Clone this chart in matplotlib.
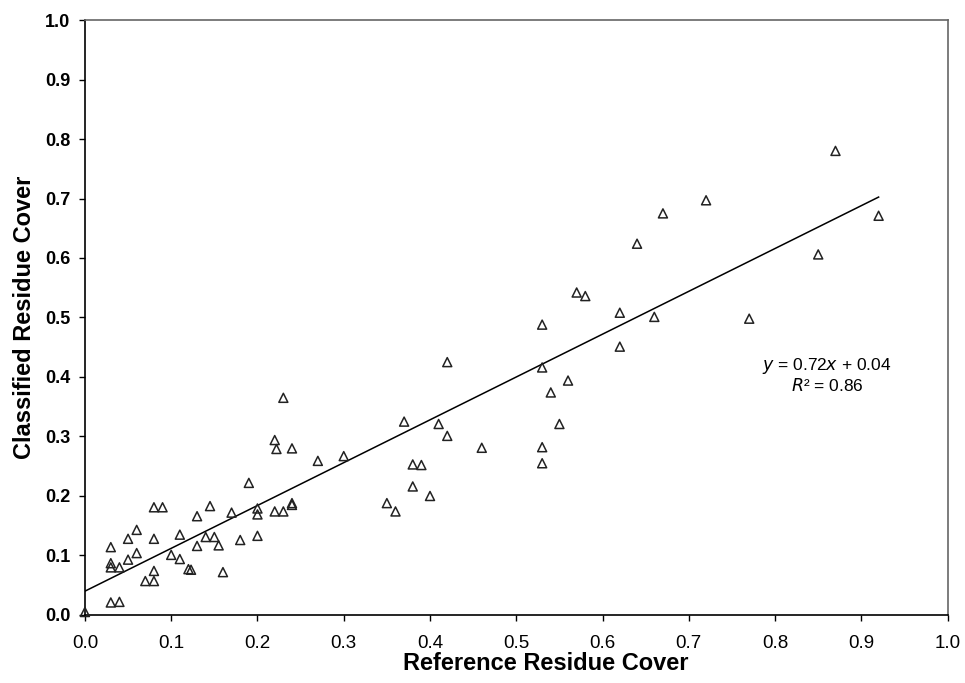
import matplotlib
matplotlib.use("Agg")
import matplotlib.pyplot as plt
import numpy as np

fam = ['Liberation Sans', 'DejaVu Sans']

ref_cover = [0.00, 0.03, 0.03, 0.03, 0.04, 0.03, 0.04, 0.05, 0.05, 0.06, 0.06, 0.07, 0.08, 0.08,
             0.08, 0.08, 0.09, 0.10, 0.11, 0.11, 0.12, 0.123, 0.13, 0.13, 0.14, 0.145, 0.15, 0.155,
             0.16, 0.17, 0.18, 0.19, 0.20, 0.20, 0.20, 0.22, 0.222, 0.22, 0.23, 0.23, 0.24, 0.24,
             0.24, 0.27, 0.30, 0.35, 0.36, 0.37, 0.38, 0.38, 0.39, 0.40, 0.41, 0.42, 0.42, 0.46,
             0.53, 0.53, 0.53, 0.53, 0.54, 0.55, 0.56, 0.57, 0.58, 0.62, 0.62, 0.64, 0.66, 0.67,
             0.72, 0.77, 0.85, 0.87, 0.92]
cls_cover = [0.005, 0.114, 0.087, 0.080, 0.080, 0.021, 0.022, 0.093, 0.128, 0.143, 0.104, 0.057, 0.057, 0.074,
             0.128, 0.181, 0.181, 0.101, 0.094, 0.135, 0.077, 0.076, 0.166, 0.116, 0.131, 0.183, 0.131, 0.117,
             0.072, 0.172, 0.126, 0.222, 0.179, 0.169, 0.133, 0.294, 0.279, 0.174, 0.174, 0.365, 0.280, 0.188,
             0.185, 0.259, 0.267, 0.188, 0.174, 0.325, 0.253, 0.216, 0.252, 0.200, 0.321, 0.425, 0.301, 0.281,
             0.488, 0.416, 0.282, 0.255, 0.374, 0.321, 0.394, 0.542, 0.536, 0.508, 0.451, 0.624, 0.501, 0.675,
             0.697, 0.498, 0.606, 0.780, 0.671]
slope, intercept, r2 = 0.72, 0.04, 0.86
ticks = [round(0.1 * i, 1) for i in range(11)]

fig = plt.figure(figsize=(9.65, 6.83), dpi=100)
ax = fig.add_axes([0.088, 0.0996, 0.894, 0.8711])
ax.scatter(ref_cover, cls_cover, marker='^', s=42, facecolors='none', edgecolors='#222222',
           linewidths=1.1, zorder=3, clip_on=False)
xl = np.array([0.0, max(ref_cover)])
ax.plot(xl, slope * xl + intercept, color='black', lw=1.1, zorder=2)
ax.set_xlim(0, 1.0)
ax.set_ylim(0, 1.0)
ax.set_xticks(ticks)
ax.set_yticks(ticks)
ax.set_xticklabels([f"{t:.1f}" for t in ticks], family=fam, fontsize=13.5)
ax.set_yticklabels([f"{t:.1f}" for t in ticks], family=fam, fontsize=13, fontweight='bold')
ax.tick_params(direction='out', length=4.5, width=1.0, colors='black', pad=6)
ax.tick_params(axis='x', pad=10)
for side, s in ax.spines.items():
    s.set_linewidth(1.2)
    s.set_color('black' if side in ('left', 'bottom') else '#666666')
ax.set_xlabel('Reference Residue Cover', family=fam, fontsize=17, fontweight='bold')
ax.set_ylabel('Classified Residue Cover', family=fam, fontsize=17, fontweight='bold')
ax.xaxis.set_label_coords(0.534, -0.063)
ax.yaxis.set_label_coords(-0.057, 0.5)
ax.text(0.86, 0.418, f"$y$ = {slope:.2f}$x$ + {intercept:.2f}", ha='center', va='center', family=fam, fontsize=12.5)
ax.text(0.86, 0.385, f"$R$² = {r2:.2f}", ha='center', va='center', family=fam, fontsize=12.5)
fig.savefig('out.png', dpi=100, facecolor='white')
